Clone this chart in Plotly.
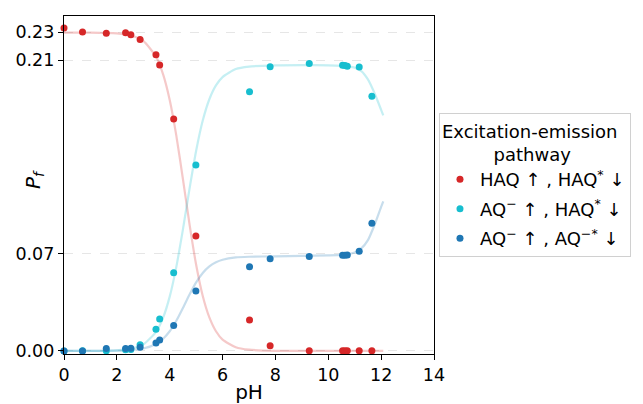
import plotly.graph_objects as go

# ---- measured data points ----
ph = [0.0, 0.7, 1.6, 2.33, 2.53, 2.88, 3.48, 3.62, 4.15, 4.99,
      7.02, 7.8, 9.28, 10.54, 10.63, 10.72, 11.17, 11.65]
haq_haq = [0.2331, 0.2302, 0.2293, 0.2297, 0.2283, 0.2249, 0.2138, 0.2064, 0.1674, 0.0830,
           0.0224, 0.0038, 0.0001, 0.0001, 0.0001, 0.0001, 0.0001, 0.0001]
aq_haq = [0.0000, 0.0001, 0.0002, 0.0008, 0.0010, 0.0045, 0.0157, 0.0231, 0.0565, 0.1342,
          0.1871, 0.2052, 0.2076, 0.2062, 0.2060, 0.2055, 0.2050, 0.1838]
aq_aq = [0.0000, 0.0000, 0.0017, 0.0017, 0.0019, 0.0027, 0.0058, 0.0079, 0.0183, 0.0433,
         0.0608, 0.0666, 0.0681, 0.0691, 0.0691, 0.0693, 0.0720, 0.0922]

# ---- fitted curves ----
ph_fit = [0, 1, 2, 2.5, 3, 3.5, 3.75, 4, 4.25, 4.5, 4.75, 5, 5.25, 5.5, 5.75, 6,
          6.5, 7, 8, 9, 10, 10.5, 10.75, 11, 11.25, 11.5, 11.75, 12, 12.08]
fit_haq_haq = [0.2298, 0.2298, 0.2292, 0.2279, 0.2238, 0.2118, 0.1996, 0.1811, 0.1554,
               0.1241, 0.0914, 0.0622, 0.0397, 0.0242, 0.0142, 0.0082, 0.0027, 0.0009,
               0.0001, 0.0, 0.0, 0.0, 0.0, 0.0, 0.0, 0.0, 0.0, 0.0, 0.0]
fit_aq_haq = [0.0, 0.00005, 0.00048, 0.00152, 0.00472, 0.0142, 0.0240, 0.0392, 0.0607,
              0.0878, 0.1172, 0.1445, 0.1663, 0.1817, 0.1917, 0.1977, 0.2035, 0.2053,
              0.2061, 0.2063, 0.2062, 0.2058, 0.2053, 0.2045, 0.2020, 0.1960, 0.1860,
              0.1740, 0.1700]
fit_aq_aq = [0.0, 0.00002, 0.00018, 0.00056, 0.00175, 0.00525, 0.0088, 0.0142, 0.0218,
             0.0310, 0.0407, 0.0495, 0.0563, 0.0610, 0.0640, 0.0658, 0.0675, 0.0680,
             0.0683, 0.0686, 0.0690, 0.0693, 0.0698, 0.0710, 0.0740, 0.0800, 0.0910,
             0.1040, 0.1080]

y_ticks = [0.00, 0.07, 0.21, 0.23]
x_ticks = [0, 2, 4, 6, 8, 10, 12, 14]

names = ["HAQ ↑ , HAQ<sup>*</sup> ↓",
         "AQ<sup>−</sup> ↑ , HAQ<sup>*</sup> ↓",
         "AQ<sup>−</sup> ↑ , AQ<sup>−*</sup> ↓"]
colors = ["#d62728", "#17becf", "#1f77b4"]
line_colors = ["rgba(214,39,40,0.25)", "rgba(23,190,207,0.25)", "rgba(31,119,180,0.25)"]

FONT = "DejaVu Sans"
fig = go.Figure()

for fit, lc in zip([fit_haq_haq, fit_aq_haq, fit_aq_aq], line_colors):
    fig.add_trace(go.Scatter(x=ph_fit, y=fit, mode="lines",
                             line=dict(color=lc, width=2.2, shape="spline", smoothing=0.6),
                             showlegend=False, hoverinfo="skip"))

for i, (vals, c, n) in enumerate(zip([haq_haq, aq_haq, aq_aq], colors, names)):
    fig.add_trace(go.Scatter(x=ph, y=vals, mode="markers", name=n, legendgroup=f"g{i}",
                             marker=dict(color=c, size=7), cliponaxis=False))

NB = "&nbsp;" * 9
fig.update_layout(
    width=635, height=396,
    margin=dict(l=56, r=209, t=8, b=50, autoexpand=False),
    paper_bgcolor="white", plot_bgcolor="white",
    font=dict(family=FONT, size=17.5, color="black"),
    legend=dict(
        x=1.0135, y=0.712, xanchor="left", yanchor="top",
        bgcolor="white", bordercolor="#d0d0d0", borderwidth=1,
        font=dict(family=FONT, size=18, color="black"),
        title=dict(text="Excitation-emission<br>" + NB + "pathway",
                   font=dict(family=FONT, size=18, color="black")),
        itemsizing="trace", tracegroupgap=3,
    ),
    xaxis=dict(
        range=[0, 14], tickvals=x_ticks, ticktext=[str(v) for v in x_ticks],
        showline=True, linecolor="black", linewidth=1.2, mirror=True, automargin=False,
        ticks="outside", ticklen=5, tickcolor="black", showgrid=False, zeroline=False,
        title=dict(text="pH", font=dict(family=FONT, size=20), standoff=9),
    ),
    yaxis=dict(
        range=[-0.0022, 0.2418], tickvals=y_ticks, ticktext=[f"{v:.2f}" for v in y_ticks],
        showline=True, linecolor="black", linewidth=1.2, mirror=True, automargin=False,
        ticks="outside", ticklen=5, tickcolor="black",
        showgrid=True, gridcolor="#e6e6e6", griddash="dash", gridwidth=1, zeroline=False,
    ),
    annotations=[dict(text="<i>P<sub>f</sub></i>", xref="paper", yref="paper",
                      x=-0.081, y=0.515, xanchor="center", yanchor="middle",
                      textangle=-90, showarrow=False, font=dict(family=FONT, size=20))],
)

fig.write_html("out.html")
